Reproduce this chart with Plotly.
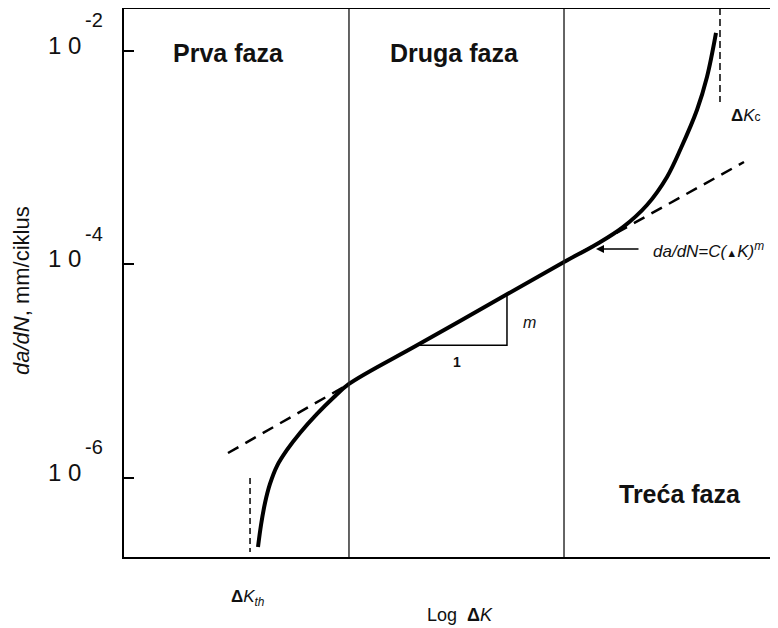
import math
import plotly.graph_objects as go

# ---- data (x: log ΔK in arbitrary units, y: da/dN in mm/ciklus) ----
curve_logK = [2.049, 2.095, 2.156, 2.232, 2.339, 2.492, 2.691, 2.951, 3.196, 3.440,
              4.480, 5.856, 6.728, 7.232, 7.630, 7.997, 8.303, 8.517, 8.761, 8.914, 9.052]
curve_rate = [2.26e-7, 3.63e-7, 5.83e-7, 8.79e-7, 1.294e-6, 1.83e-6, 2.64e-6, 3.98e-6,
              5.61e-6, 7.60e-6, 1.75e-5, 5.25e-5, 1.054e-4, 1.556e-4, 2.24e-4, 3.61e-4,
              6.61e-4, 1.233e-3, 2.80e-3, 5.70e-3, 1.476e-2]

paris_logK = [1.590, 3.440, None, 6.728, 9.480]
paris_rate = [1.714e-6, 7.60e-6, None, 1.054e-4, 9.12e-4]

slope_tri_logK = [4.480, 5.856, 5.856]
slope_tri_rate = [1.75e-5, 1.75e-5, 5.25e-5]

kth_logK = [1.927, 1.927]
kth_rate = [1.0e-6, 2.03e-7]
kc_logK = [9.113, 9.113]
kc_rate = [2.53e-2, 3.33e-3]

phase_bounds = [3.440, 6.728]

tick_vals = [1e-6, 1e-4, 1e-2]
tick_exps = ["-6", "-4", "-2"]
phase_labels = ["Prva faza", "Druga faza", "Treća faza"]

FONT = "Liberation Sans, Arial, sans-serif"

# figure is drawn inside the page's 8px body margin
PW = 654.0   # plot width in px
PH = 548.0   # plot height in px
L0, T0 = 124, 9   # plot area top-left on the page


def px(xp):
    return (xp - L0) / PW


def py(yp):
    return (T0 + PH - yp) / PH


fig = go.Figure()

fig.add_trace(go.Scatter(x=paris_logK, y=paris_rate, mode="lines",
                         line=dict(color="black", width=2.5, dash="12px,8px"),
                         hoverinfo="skip", showlegend=False))
fig.add_trace(go.Scatter(x=kth_logK, y=kth_rate, mode="lines",
                         line=dict(color="black", width=1.5, dash="6px,4px"),
                         hoverinfo="skip", showlegend=False))
fig.add_trace(go.Scatter(x=kc_logK, y=kc_rate, mode="lines",
                         line=dict(color="black", width=1.5, dash="7px,4px"),
                         hoverinfo="skip", showlegend=False))
fig.add_trace(go.Scatter(x=slope_tri_logK, y=slope_tri_rate, mode="lines",
                         line=dict(color="black", width=1.5),
                         hoverinfo="skip", showlegend=False))
fig.add_trace(go.Scatter(x=curve_logK, y=curve_rate, mode="lines",
                         line=dict(color="black", width=4, shape="spline", smoothing=1.0),
                         hoverinfo="skip", showlegend=False))

for xb in phase_bounds:
    fig.add_shape(type="line", xref="x", yref="paper", x0=xb, x1=xb, y0=0, y1=1,
                  line=dict(color="#222", width=1.4))

ann = []


def label(xp, yp, text, size, **kw):
    d = dict(xref="paper", yref="paper", x=px(xp), y=py(yp), text=text,
             showarrow=False, xanchor="center", yanchor="middle",
             font=dict(family=FONT, size=size, color="#111"))
    d.update(kw)
    ann.append(d)


# y tick labels 10^n
for v, e in zip(tick_vals, tick_exps):
    L = math.log10(v)
    ann.append(dict(xref="paper", yref="y", x=px(64), y=L + 0.055, text="1 0",
                    showarrow=False, font=dict(family=FONT, size=24, color="#111"),
                    xanchor="center", yanchor="middle"))
    ann.append(dict(xref="paper", yref="y", x=px(94), y=L + 0.29, text=e,
                    showarrow=False, font=dict(family=FONT, size=20, color="#111"),
                    xanchor="center", yanchor="middle"))

# phase labels
label(228, 53, "<b>%s</b>" % phase_labels[0], 25)
label(454, 53, "<b>%s</b>" % phase_labels[1], 25)
label(680, 494, "<b>%s</b>" % phase_labels[2], 25)

# slope triangle labels
label(457, 362, "<b>1</b>", 14)
label(529, 322, "<i>m</i>", 16)

# Paris law label + arrow
label(651, 250,
      "<i>da/dN=C(</i><span style='font-size:11px'>▲</span><i>K)</i><sup><i>m</i></sup>",
      17, xanchor="left")
ann.append(dict(xref="paper", yref="paper", x=px(596), y=py(249), ax=44, ay=0, text="",
                showarrow=True, arrowhead=2, arrowsize=1, arrowwidth=1.6,
                arrowcolor="black"))

# ΔKc, ΔKth
label(746, 115, "<b>Δ</b><i>K</i><span style='font-size:12px'>c</span>", 17)
label(248, 598, "<b>Δ</b><i>K</i><sub><i>th</i></sub>", 17)

# axis titles
label(460, 615, "Log  <b>Δ</b><i>K</i>", 18)
label(21, 291, "<i>da/dN</i>, mm/ciklus", 22, textangle=-90)

fig.update_layout(
    width=770, height=620,
    margin=dict(l=116, r=0, t=1, b=71, pad=0),
    paper_bgcolor="white", plot_bgcolor="white",
    annotations=ann,
    xaxis=dict(range=[0, 10], showgrid=False, zeroline=False, showticklabels=False,
               ticks="", showline=True, mirror=True, linecolor="black", linewidth=2),
    yaxis=dict(type="log", range=[-6.74, -1.607], showgrid=False, zeroline=False,
               showticklabels=False, tickvals=tick_vals, ticks="inside", ticklen=10,
               tickwidth=2, tickcolor="black", showline=True, mirror=False,
               linecolor="black", linewidth=2),
)

fig.write_html("out.html")
